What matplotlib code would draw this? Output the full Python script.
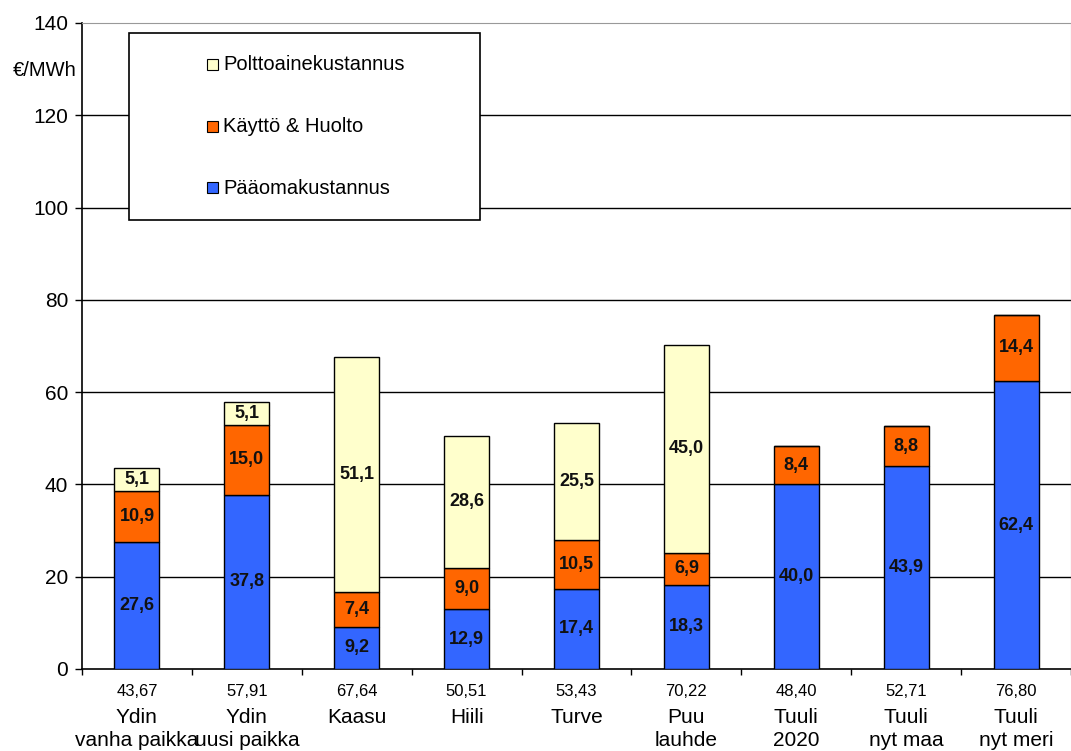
import matplotlib
matplotlib.use("Agg")
import matplotlib.pyplot as plt
from matplotlib.patches import Rectangle
import matplotlib.transforms as mtransforms

plt.rcParams['font.family'] = ['Liberation Sans', 'DejaVu Sans']

# data
categories = ["Ydin\nvanha paikka", "Ydin\nuusi paikka", "Kaasu", "Hiili", "Turve",
              "Puu\nlauhde", "Tuuli\n2020", "Tuuli\nnyt maa", "Tuuli\nnyt meri"]
totals = ["43,67", "57,91", "67,64", "50,51", "53,43", "70,22", "48,40", "52,71", "76,80"]
paaoma = [27.6, 37.8, 9.2, 12.9, 17.4, 18.3, 40.0, 43.9, 62.4]
kaytto = [10.9, 15.0, 7.4, 9.0, 10.5, 6.9, 8.4, 8.8, 14.4]
polttoaine = [5.1, 5.1, 51.1, 28.6, 25.5, 45.0, 0.0, 0.0, 0.0]
series_names = ["Pääomakustannus", "Käyttö & Huolto", "Polttoainekustannus"]
colors = ["#3366FF", "#FF6600", "#FFFFCC"]

W, H = 1071, 751
fig = plt.figure(figsize=(W / 100, H / 100), dpi=100)
ax = fig.add_axes([82 / W, 1 - 669 / H, 989 / W, (669 - 23) / H])

x = list(range(len(categories)))
bottoms = [0.0] * len(x)
narrow = ['Liberation Sans Narrow', 'Liberation Sans', 'DejaVu Sans']
for vals, col in zip([paaoma, kaytto, polttoaine], colors):
    bars = ax.bar(x, vals, 0.41, bottom=bottoms, color=col, edgecolor="black", linewidth=1, zorder=3)
    for b, v, b0 in zip(bars, vals, bottoms):
        if v > 0:
            ax.text(b.get_x() + b.get_width() / 2, b0 + v / 2, f"{v:.1f}".replace(".", ","),
                    ha="center", va="center", fontsize=13, fontweight="bold",
                    family=narrow, color="#111111", zorder=4)
    bottoms = [b + v for b, v in zip(bottoms, vals)]

ax.set_xlim(-0.5, len(categories) - 0.5)
ax.set_ylim(0, 140)
ax.set_yticks(range(0, 141, 20))
ax.tick_params(axis="y", length=5, width=1, labelsize=15, pad=5)
ax.set_xticks([i - 0.5 for i in x] + [len(x) - 0.5])
ax.tick_params(axis="x", length=4, width=1, labelbottom=False, direction="out")
for yv in range(20, 121, 20):
    ax.axhline(yv, color="black", lw=1, zorder=1)
ax.spines["top"].set_color("#999999")
ax.spines["right"].set_color("#999999")
ax.spines["left"].set_linewidth(1.2)
ax.spines["bottom"].set_linewidth(1.2)

trans = mtransforms.blended_transform_factory(ax.transData, ax.transAxes)
for i, (cat, tot) in enumerate(zip(categories, totals)):
    ax.text(i, -22 / 646, tot, transform=trans, ha="center", va="center", fontsize=12)
    ax.text(i, -39 / 646, cat, transform=trans, ha="center", va="top", fontsize=15,
            linespacing=1.3)

fig.text(77 / W, 1 - 71 / H, "€/MWh", ha="right", va="center", fontsize=14.5)

# legend box
fig.patches.append(Rectangle((129 / W, 1 - 220 / H), (480 - 129) / W, (220 - 33) / H,
                             transform=fig.transFigure, facecolor="white",
                             edgecolor="black", lw=1.2, zorder=5))
for name, col, yy in zip(series_names[::-1], colors[::-1], [65, 127, 188]):
    fig.patches.append(Rectangle((207 / W, 1 - (yy + 5) / H), 11 / W, 11 / H,
                                 transform=fig.transFigure, facecolor=col,
                                 edgecolor="black", lw=0.8, zorder=6))
    fig.text(223 / W, 1 - yy / H, name, ha="left", va="center", fontsize=14.5, zorder=7)

fig.savefig("out.png", dpi=100)
